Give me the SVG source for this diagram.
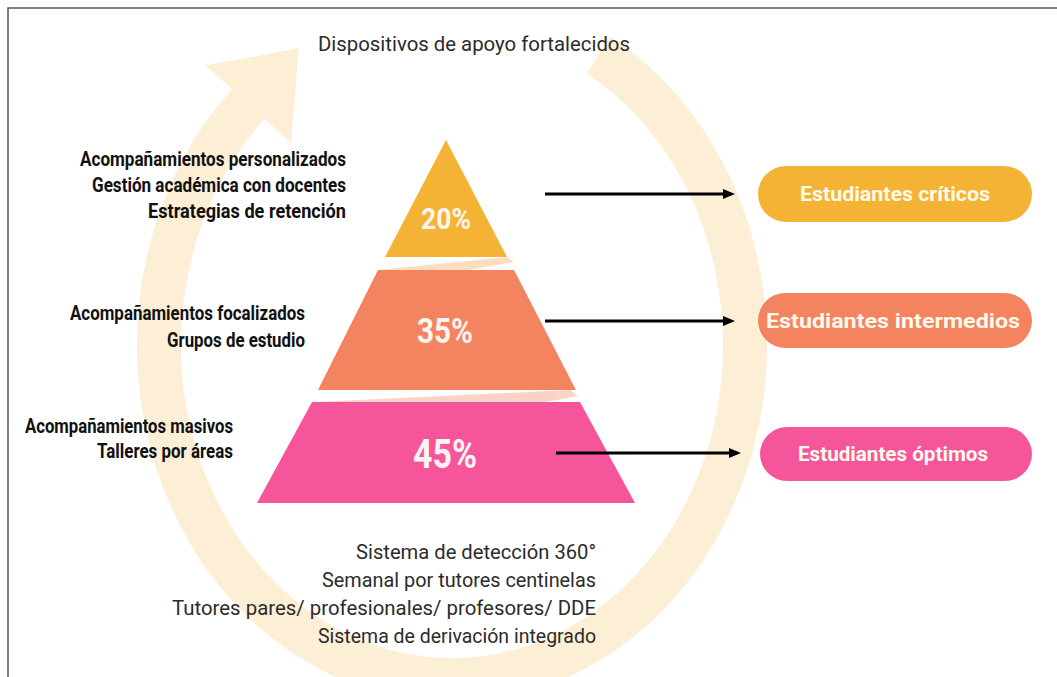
<svg xmlns="http://www.w3.org/2000/svg" width="1057" height="677" viewBox="0 0 1057 677">
<style>
.lbl{font-family:"Liberation Sans Narrow","Roboto","Liberation Sans",sans-serif;font-weight:bold;font-size:20px;fill:#111;}
.reg{font-family:"Roboto","Liberation Sans Narrow","Liberation Sans",sans-serif;font-size:19.5px;fill:#2b2b2b;}
.pct{font-family:"Liberation Sans Narrow","Roboto","Liberation Sans",sans-serif;font-weight:bold;fill:#fdf4f2;text-anchor:middle;}
.pill{font-family:"Liberation Sans Narrow","Roboto","Liberation Sans",sans-serif;font-weight:bold;font-size:21px;fill:#fffbea;text-anchor:middle;}
.conn{stroke:#000;stroke-width:3;fill:none;marker-end:url(#ah);}
</style>
<defs>
<marker id="ah" markerWidth="12" markerHeight="11" refX="8" refY="5.5" orient="auto" markerUnits="userSpaceOnUse">
<path d="M0,0.5 L12,5.5 L0,10.5 Z" fill="#000"/>
</marker>
</defs>
<rect width="1057" height="677" fill="#fff"/>
<path d="M8,677 L8,8 L1057,8" fill="none" stroke="#555" stroke-width="1.5"/>
<g id="cycle">
<path d="M 598.5 55 A 293 335 0 1 1 248.4 104.1" fill="none" stroke="#FDEFD6" stroke-width="44"/>
<polygon points="205.6,65.2 298.7,48.5 291.2,143" fill="#FDEFD6"/>
</g>
<g id="title"><text class="reg" x="318" y="51" textLength="312" lengthAdjust="spacingAndGlyphs">Dispositivos de apoyo fortalecidos</text></g>
<g id="pyramid">
<polygon points="378,270 507,257 514,262 468,270" fill="#FCDDBF"/>
<polygon points="316,402 570,390 578,396 545,402" fill="#FAD3C6"/>
<g id="level20"><polygon points="446,140 385,257 507,257" fill="#F5B335"/><text class="pct" x="446" y="229" font-size="30" textLength="50" lengthAdjust="spacingAndGlyphs">20%</text></g>
<g id="level35"><polygon points="378,270 514,270 576,390 318,390" fill="#F4845F"/><text class="pct" x="445" y="343" font-size="35" textLength="56" lengthAdjust="spacingAndGlyphs">35%</text></g>
<g id="level45"><polygon points="312,402 580,402 635,503 257,503" fill="#F5569B"/><text class="pct" x="445" y="468" font-size="40" textLength="64" lengthAdjust="spacingAndGlyphs">45%</text></g>
</g>
<g id="labels-left">
<g id="lbl1">
<text class="lbl" x="80" y="166" textLength="266" lengthAdjust="spacingAndGlyphs">Acompañamientos personalizados</text>
<text class="lbl" x="92" y="192" textLength="254" lengthAdjust="spacingAndGlyphs">Gestión académica con docentes</text>
<text class="lbl" x="148" y="218" textLength="198" lengthAdjust="spacingAndGlyphs">Estrategias de retención</text>
</g>
<g id="lbl2">
<text class="lbl" x="70" y="320" textLength="235" lengthAdjust="spacingAndGlyphs">Acompañamientos focalizados</text>
<text class="lbl" x="167" y="347" textLength="138" lengthAdjust="spacingAndGlyphs">Grupos de estudio</text>
</g>
<g id="lbl3">
<text class="lbl" x="25" y="433" textLength="208" lengthAdjust="spacingAndGlyphs">Acompañamientos masivos</text>
<text class="lbl" x="97" y="458" textLength="136" lengthAdjust="spacingAndGlyphs">Talleres por áreas</text>
</g>
</g>
<g id="bottom-text">
<text class="reg" x="356" y="559" textLength="240" lengthAdjust="spacingAndGlyphs">Sistema de detección 360°</text>
<text class="reg" x="322" y="587" textLength="274" lengthAdjust="spacingAndGlyphs">Semanal por tutores centinelas</text>
<text class="reg" x="172" y="615" textLength="424" lengthAdjust="spacingAndGlyphs">Tutores pares/ profesionales/ profesores/ DDE</text>
<text class="reg" x="318" y="643" textLength="278" lengthAdjust="spacingAndGlyphs">Sistema de derivación integrado</text>
</g>
<g id="connectors">
<line class="conn" x1="545" y1="194" x2="731" y2="194"/>
<line class="conn" x1="545" y1="321" x2="731" y2="321"/>
<line class="conn" x1="556" y1="453" x2="737" y2="453"/>
</g>
<g id="pill-criticos"><rect x="758" y="166" width="274" height="56" rx="28" fill="#F5B335"/><text class="pill" x="895" y="201" textLength="190" lengthAdjust="spacingAndGlyphs">Estudiantes críticos</text></g>
<g id="pill-intermedios"><rect x="758" y="293" width="274" height="55" rx="27.5" fill="#F4845F"/><text class="pill" x="893" y="328" textLength="254" lengthAdjust="spacingAndGlyphs">Estudiantes intermedios</text></g>
<g id="pill-optimos"><rect x="760" y="427" width="272" height="54" rx="27" fill="#F5569B"/><text class="pill" x="893" y="461" textLength="190" lengthAdjust="spacingAndGlyphs">Estudiantes óptimos</text></g>
</svg>
